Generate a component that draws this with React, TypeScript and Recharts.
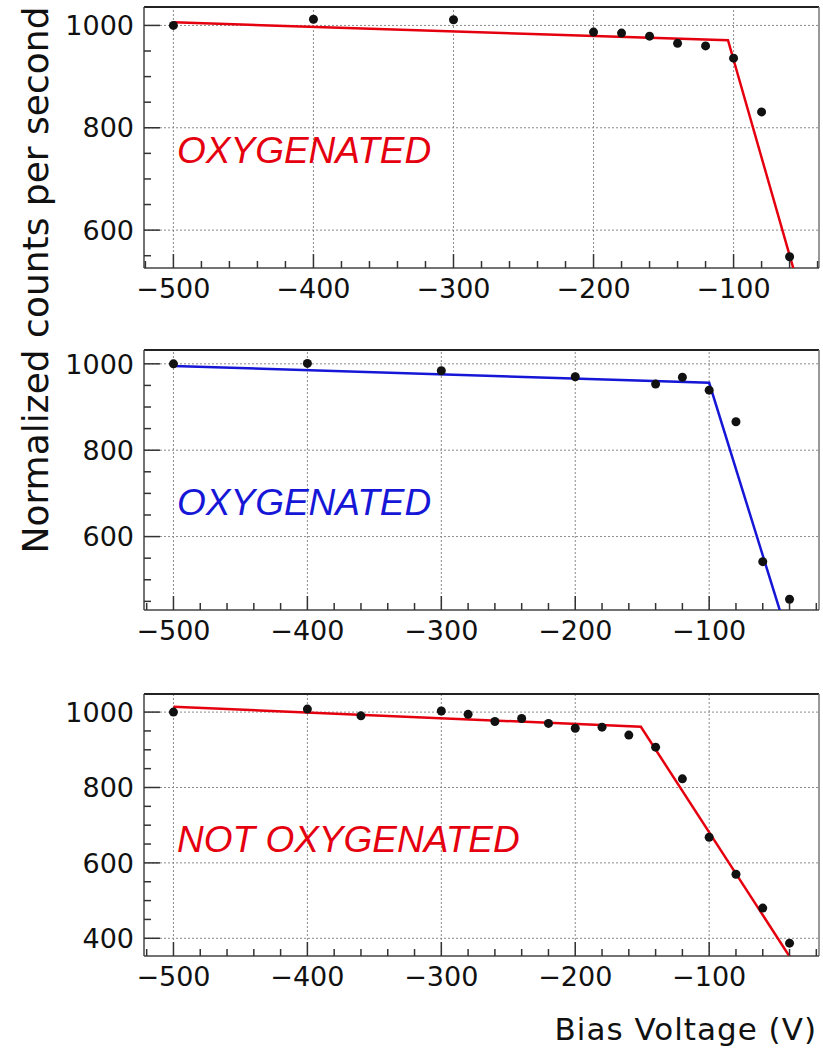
import { ScatterChart, Scatter, XAxis, YAxis, ReferenceLine } from 'recharts';

// measured points, panel by panel
const topVolts = [-500, -400, -300, -200, -180, -160, -140, -120, -100, -80, -60];
const topCounts = [1000, 1012, 1011, 987, 985, 979, 965, 960, 936, 831, 548];
const topFitVolts = [-500, -104, -40];
const topFitCounts = [1006, 971, 360];

const midVolts = [-500, -400, -300, -200, -140, -120, -100, -80, -60, -40];
const midCounts = [1000, 1001, 984, 970, 953, 969, 939, 866, 542, 455];
const midFitVolts = [-500, -100, -30];
const midFitCounts = [995, 956, 257];

const lowVolts = [-500, -400, -360, -300, -280, -260, -240, -220, -200, -180, -160, -140, -120, -100, -80, -60, -40];
const lowCounts = [1000, 1008, 990, 1003, 994, 975, 983, 970, 957, 960, 939, 907, 823, 668, 570, 480, 387];
const lowFitVolts = [-500, -151, -20];
const lowFitCounts = [1014, 961, 242];

const xMajor = [-500, -400, -300, -200, -100];
const yMajor = [400, 600, 800, 1000];

const RED = '#e5000f';
const BLUE = '#1616d6';
const FONT = '"DejaVu Sans", sans-serif';

function pairs(xs: number[], ys: number[]) {
  return xs.map((x, i) => ({ x, y: ys[i] }));
}

function steps(from: number, to: number, step: number) {
  const out: number[] = [];
  for (let v = from; v <= to; v += step) out.push(v);
  return out;
}

const minus = (v: number) => (v < 0 ? `\u2212${Math.abs(v)}` : `${v}`);

function XTick({ x, y, payload }: any) {
  const major = xMajor.includes(payload.value);
  return (
    <g>
      <line x1={x} y1={y} x2={x} y2={y - (major ? 14 : 7)} stroke="#333" strokeWidth={1.5} />
      {major && (
        <text x={x} y={y + 30} textAnchor="middle" fontSize={27} fontFamily={FONT} fill="#111">
          {minus(payload.value)}
        </text>
      )}
    </g>
  );
}

function YTick({ x, y, payload }: any) {
  const major = payload.value % 200 === 0;
  return (
    <g>
      <line x1={x} y1={y} x2={x + (major ? 16 : 7)} y2={y} stroke="#333" strokeWidth={1.5} />
      {major && (
        <text x={x - 10} y={y} dy="0.36em" textAnchor="end" fontSize={27} fontFamily={FONT} fill="#111">
          {payload.value}
        </text>
      )}
    </g>
  );
}

const Dot = (p: any) => <circle cx={p.cx} cy={p.cy} r={4.5} fill="#111" />;
const NoDot = () => <g />;

interface PanelProps {
  top: number;
  height: number;
  marginTop: number;
  axisHeight: number;
  xDomain: [number, number];
  yDomain: [number, number];
  points: { x: number; y: number }[];
  fit: { x: number; y: number }[];
  color: string;
}

function Panel({ top, height, marginTop, axisHeight, xDomain, yDomain, points, fit, color }: PanelProps) {
  const xTicks = steps(-520, xDomain[1], 20).filter((v) => v >= xDomain[0]);
  const yTicks = steps(350, 1050, 50).filter((v) => v >= yDomain[0] && v <= yDomain[1]);
  const yGrid = yMajor.filter((v) => v >= yDomain[0] && v <= yDomain[1]);
  return (
    <div style={{ position: 'absolute', left: 0, top }}>
      <ScatterChart width={823} height={height} margin={{ top: marginTop, right: 4, bottom: 0, left: 0 }}>
        <XAxis
          type="number"
          dataKey="x"
          domain={xDomain}
          allowDataOverflow
          ticks={xTicks}
          interval={0}
          tickSize={0}
          tickMargin={0}
          height={axisHeight}
          tick={<XTick />}
          axisLine={{ stroke: '#444', strokeWidth: 1.5 }}
        />
        <YAxis
          type="number"
          dataKey="y"
          domain={yDomain}
          allowDataOverflow
          ticks={yTicks}
          interval={0}
          tickSize={0}
          tickMargin={0}
          width={144}
          tick={<YTick />}
          axisLine={{ stroke: '#444', strokeWidth: 1.5 }}
        />
        {xMajor.map((v) => (
          <ReferenceLine key={`vx${v}`} x={v} stroke="#8a8a8a" strokeDasharray="2 2" />
        ))}
        {yGrid.map((v) => (
          <ReferenceLine key={`hy${v}`} y={v} stroke="#8a8a8a" strokeDasharray="2 2" />
        ))}
        <ReferenceLine y={yDomain[1]} stroke="#222" strokeWidth={2} />
        <ReferenceLine x={xDomain[1]} stroke="#777" strokeWidth={1.5} />
        <Scatter
          data={fit}
          line={{ stroke: color, strokeWidth: 2.5 }}
          lineType="joint"
          shape={NoDot}
          isAnimationActive={false}
        />
        <Scatter data={points} shape={Dot} isAnimationActive={false} />
      </ScatterChart>
    </div>
  );
}

export default function App() {
  return (
    <div style={{ position: 'absolute', left: 0, top: 0, width: 823, height: 1052, background: '#fff' }}>
      <Panel
        top={0}
        height={310}
        marginTop={7}
        axisHeight={42}
        xDomain={[-521, -39]}
        yDomain={[526, 1036]}
        points={pairs(topVolts, topCounts)}
        fit={pairs(topFitVolts, topFitCounts)}
        color={RED}
      />
      <Panel
        top={330}
        height={330}
        marginTop={20}
        axisHeight={50}
        xDomain={[-522, -18]}
        yDomain={[430, 1032]}
        points={pairs(midVolts, midCounts)}
        fit={pairs(midFitVolts, midFitCounts)}
        color={BLUE}
      />
      <Panel
        top={660}
        height={340}
        marginTop={34}
        axisHeight={44}
        xDomain={[-522, -18]}
        yDomain={[353, 1048]}
        points={pairs(lowVolts, lowCounts)}
        fit={pairs(lowFitVolts, lowFitCounts)}
        color={RED}
      />
      <svg
        width={823}
        height={1052}
        style={{ position: 'absolute', left: 0, top: 0, pointerEvents: 'none' }}
      >
        <g fontFamily='"Liberation Sans", Arial, sans-serif' fontStyle="italic" fontSize={37}>
          <text x={177} y={163} fill={RED}>OXYGENATED</text>
          <text x={177} y={515} fill={BLUE}>OXYGENATED</text>
          <text x={177} y={852} fill={RED}>NOT OXYGENATED</text>
        </g>
        <text
          x={0}
          y={0}
          transform="translate(48 280) rotate(-90)"
          textAnchor="middle"
          fontFamily={FONT}
          fontSize={36}
          fill="#111"
        >
          Normalized counts per second
        </text>
        <text x={817} y={1040} textAnchor="end" fontFamily={FONT} fontSize={31} letterSpacing={1} fill="#111">
          Bias Voltage (V)
        </text>
      </svg>
    </div>
  );
}
